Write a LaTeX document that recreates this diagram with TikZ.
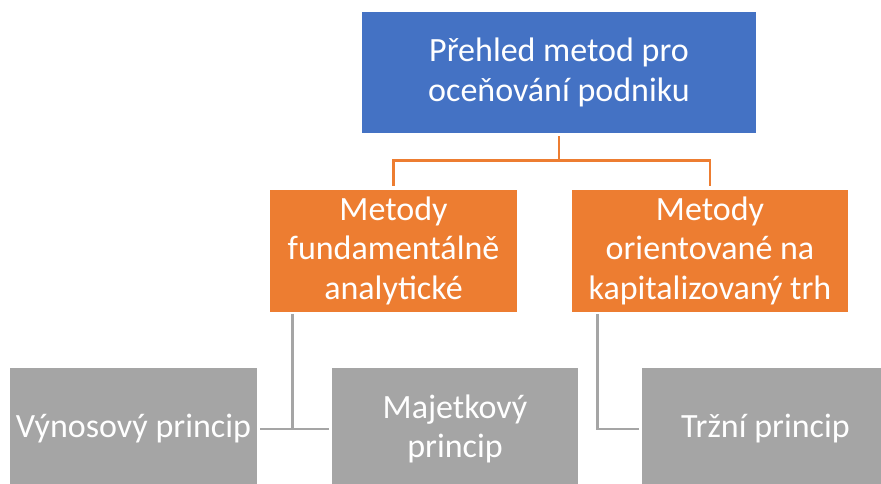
\documentclass[tikz,border=0pt]{standalone}
\usepackage{fontspec}
\setmainfont{Carlito}
\usetikzlibrary{positioning,calc}

\definecolor{boxblue}{HTML}{4472C4}
\definecolor{boxorange}{HTML}{ED7D31}
\definecolor{boxgray}{HTML}{A5A5A5}

\begin{document}
\begin{tikzpicture}[x=1pt,y=-1pt,semithick,
olink/.style={draw=boxorange,line width=2.5pt,shorten <=3pt,shorten >=3pt},
glink/.style={draw=boxgray,line width=2.5pt,shorten <=2pt,shorten >=3pt}]
\tikzstyle{box}=[rectangle,inner sep=0pt,text=white,
align=center,font=\fontsize{34}{39.5}\selectfont,
minimum height=122pt]

\useasboundingbox (0,0) rectangle (881,483);
\clip (0,0) rectangle (881,483);

\node[box,fill=boxblue,minimum width=394pt,minimum height=121pt]
(P0) at (559,72.5) {Přehled metod pro\\oceňování podniku};

\node[box,fill=boxorange,minimum width=247pt]
(M1) at (393.5,250.5) {Metody\\fundamentálně\\analytické};

\node[box,fill=boxorange,minimum width=276pt]
(M2) at (710,250.5) {Metody\\orientované na\\kapitalizovaný trh};

\node[box,fill=boxgray,minimum width=247pt]
(V1) at (133.5,429) {Výnosový princip};

\node[box,fill=boxgray,minimum width=246pt]
(V2) at (455,429) {Majetkový\\princip};

\node[box,fill=boxgray,minimum width=247pt]
(V3) at (765.5,429) {Tržní princip};

%top level links
\draw[olink] (P0.south) -- ++(0,27) -| (M1.north);
\draw[olink] (P0.south) -- ++(0,27) -| (M2.north);

%principle links
\draw[glink] ([xshift=23pt]M1.south west) |- (V1.east);
\draw[glink] ([xshift=23pt]M1.south west) |- (V2.west);
\draw[glink] ([xshift=26pt]M2.south west) |- (V3.west);

\end{tikzpicture}
\end{document}
